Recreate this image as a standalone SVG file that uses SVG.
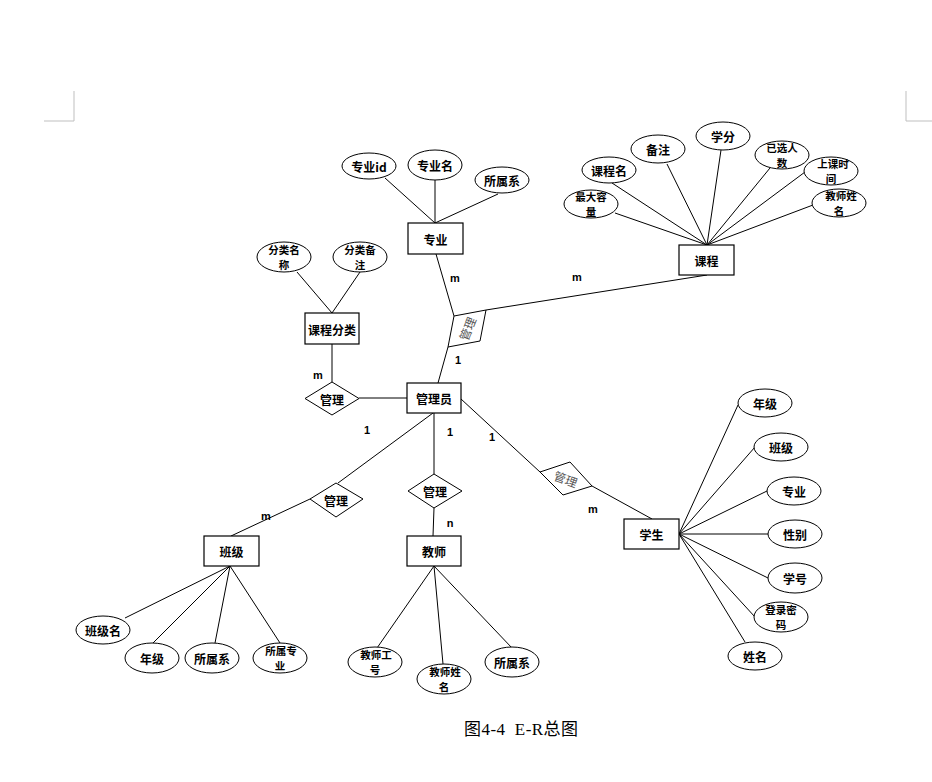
<svg xmlns="http://www.w3.org/2000/svg" width="932" height="782" viewBox="0 0 932 782">
<style>
.bg{fill:#fff}
.ent rect{fill:#fff;stroke:#000;stroke-width:1.2}
.att ellipse{fill:#fff;stroke:#000;stroke-width:1}
.rel polygon{fill:#fff;stroke:#000;stroke-width:1}
text{font-family:"Noto Sans CJK SC","Liberation Sans",sans-serif;font-size:12px;font-weight:bold;fill:#000;text-anchor:middle;dominant-baseline:central}
.t2{font-size:10.5px}
.lbl{font-family:"Liberation Sans","Noto Sans",sans-serif;font-size:11px;font-weight:bold}
.rot{font-weight:normal;fill:#555}
.conn line{stroke:#000;stroke-width:1}
.corner{stroke:#bfbfbf;stroke-width:1;fill:none}
.cap{font-family:"Liberation Serif","Noto Sans CJK SC",serif;font-size:17px;font-weight:normal;text-anchor:start}
</style>
<rect class="bg" x="0" y="0" width="932" height="782"/>
<path class="corner" d="M74,91 V121 H44"/>
<path class="corner" d="M906,91 V121 H932"/>

<g id="connectors" class="conn">
<line x1="385" y1="178" x2="435" y2="223"/>
<line x1="435" y1="180" x2="435" y2="223"/>
<line x1="498" y1="194" x2="435" y2="223"/>
<line x1="615" y1="213" x2="707" y2="245"/>
<line x1="612" y1="183" x2="707" y2="245"/>
<line x1="667" y1="164" x2="707" y2="245"/>
<line x1="721" y1="150" x2="707" y2="245"/>
<line x1="770" y1="168" x2="707" y2="245"/>
<line x1="805" y1="172" x2="707" y2="245"/>
<line x1="813" y1="205" x2="707" y2="245"/>
<line x1="297" y1="272" x2="332" y2="313"/>
<line x1="360" y1="272" x2="332" y2="313"/>
<line x1="332" y1="344" x2="332" y2="382"/>
<line x1="359" y1="398" x2="407" y2="398"/>
<line x1="436" y1="254" x2="454" y2="316"/>
<line x1="486" y1="310" x2="707" y2="275"/>
<line x1="448" y1="347" x2="438" y2="383"/>
<line x1="433" y1="413" x2="338" y2="483"/>
<line x1="310" y1="499" x2="231" y2="536"/>
<line x1="434" y1="413" x2="434" y2="474"/>
<line x1="434" y1="508" x2="433" y2="536"/>
<line x1="461" y1="399" x2="540" y2="472"/>
<line x1="592" y1="486" x2="652" y2="519"/>
<line x1="679" y1="534" x2="738" y2="405"/>
<line x1="679" y1="534" x2="755" y2="447"/>
<line x1="679" y1="534" x2="767" y2="491"/>
<line x1="679" y1="534" x2="768" y2="534"/>
<line x1="679" y1="534" x2="768" y2="578"/>
<line x1="679" y1="534" x2="755" y2="617"/>
<line x1="679" y1="534" x2="745" y2="642"/>
<line x1="230" y1="566" x2="125" y2="618"/>
<line x1="230" y1="566" x2="153" y2="643"/>
<line x1="230" y1="566" x2="215" y2="643"/>
<line x1="230" y1="566" x2="280" y2="643"/>
<line x1="434" y1="566" x2="377" y2="648"/>
<line x1="434" y1="566" x2="443" y2="664"/>
<line x1="434" y1="566" x2="512" y2="648"/>
</g>

<g id="e-zhuanye" class="ent"><rect x="408" y="223" width="55" height="31"/><text x="435.5" y="239">专业</text></g>
<g id="e-kecheng" class="ent"><rect x="679" y="245" width="55" height="30"/><text x="706.5" y="260">课程</text></g>
<g id="e-kechengfenlei" class="ent"><rect x="305" y="313" width="54" height="31"/><text x="332" y="329">课程分类</text></g>
<g id="e-guanliyuan" class="ent"><rect x="407" y="383" width="54" height="30"/><text x="434" y="398">管理员</text></g>
<g id="e-banji" class="ent"><rect x="204" y="536" width="55" height="30"/><text x="231.5" y="551">班级</text></g>
<g id="e-jiaoshi" class="ent"><rect x="407" y="536" width="54" height="30"/><text x="434" y="551">教师</text></g>
<g id="e-xuesheng" class="ent"><rect x="624" y="519" width="55" height="30"/><text x="651.5" y="534">学生</text></g>

<g id="r-fenlei" class="rel"><polygon points="305,398.5 332,382 359,398.5 332,415"/><text x="332" y="399">管理</text></g>
<g id="r-kecheng" class="rel"><polygon points="454,316 486,310 480,341 448,347"/><text class="rot" x="467" y="328.5" transform="rotate(-68 467 328.5)">管理</text></g>
<g id="r-banji" class="rel"><polygon points="310,499 336,483 363,499 336,517"/><text x="336" y="500">管理</text></g>
<g id="r-jiaoshi" class="rel"><polygon points="408,491 434,474 462,491 434,508"/><text x="435" y="491">管理</text></g>
<g id="r-xuesheng" class="rel"><polygon points="540,472 570,462 592,486 563,495"/><text class="rot" x="566" y="478.5" transform="rotate(20 566 478.5)">管理</text></g>

<g id="a-zyid" class="att"><ellipse cx="369" cy="166" rx="27" ry="13"/><text x="369" y="166">专业id</text></g>
<g id="a-zym" class="att"><ellipse cx="435" cy="165" rx="27" ry="15"/><text x="435" y="165">专业名</text></g>
<g id="a-zysx" class="att"><ellipse cx="502" cy="180" rx="27" ry="13"/><text x="502" y="180">所属系</text></g>
<g id="a-zdrl" class="att"><ellipse cx="591" cy="204" rx="27" ry="14"/><text class="t2" x="591" y="196.5">最大容</text><text class="t2" x="591" y="211.5">量</text></g>
<g id="a-kcm" class="att"><ellipse cx="609" cy="170" rx="27" ry="13"/><text x="609" y="170">课程名</text></g>
<g id="a-bz" class="att"><ellipse cx="658" cy="149" rx="27" ry="14"/><text x="658" y="149">备注</text></g>
<g id="a-xf" class="att"><ellipse cx="723" cy="136" rx="27" ry="14"/><text x="723" y="136">学分</text></g>
<g id="a-yxrs" class="att"><ellipse cx="782" cy="155" rx="27" ry="14"/><text class="t2" x="782" y="147.5">已选人</text><text class="t2" x="782" y="162.5">数</text></g>
<g id="a-sksj" class="att"><ellipse cx="831" cy="171" rx="27" ry="14"/><text class="t2" x="833" y="163.5">上课时</text><text class="t2" x="831" y="178.5">间</text></g>
<g id="a-jsxm1" class="att"><ellipse cx="839" cy="203" rx="27" ry="14"/><text class="t2" x="841" y="195.5">教师姓</text><text class="t2" x="839" y="210.5">名</text></g>
<g id="a-flmc" class="att"><ellipse cx="284" cy="257" rx="27" ry="15"/><text class="t2" x="284" y="249.5">分类名</text><text class="t2" x="284" y="264.5">称</text></g>
<g id="a-flbz" class="att"><ellipse cx="360" cy="257" rx="27" ry="15"/><text class="t2" x="360" y="249.5">分类备</text><text class="t2" x="360" y="264.5">注</text></g>
<g id="a-nj1" class="att"><ellipse cx="765" cy="403" rx="27" ry="14"/><text x="765" y="403">年级</text></g>
<g id="a-bj" class="att"><ellipse cx="781" cy="447" rx="27" ry="14"/><text x="781" y="447">班级</text></g>
<g id="a-zy" class="att"><ellipse cx="794" cy="491" rx="27" ry="14"/><text x="794" y="491">专业</text></g>
<g id="a-xb" class="att"><ellipse cx="795" cy="534" rx="27" ry="14"/><text x="795" y="534">性别</text></g>
<g id="a-xh" class="att"><ellipse cx="795" cy="578" rx="27" ry="15"/><text x="795" y="578">学号</text></g>
<g id="a-dlmm" class="att"><ellipse cx="781" cy="617" rx="27" ry="15"/><text class="t2" x="781" y="609.5">登录密</text><text class="t2" x="781" y="624.5">码</text></g>
<g id="a-xm" class="att"><ellipse cx="755" cy="656" rx="27" ry="14"/><text x="755" y="656">姓名</text></g>
<g id="a-bjm" class="att"><ellipse cx="103" cy="630" rx="27" ry="14"/><text x="103" y="630">班级名</text></g>
<g id="a-nj2" class="att"><ellipse cx="152" cy="658" rx="27" ry="15"/><text x="152" y="658">年级</text></g>
<g id="a-sx2" class="att"><ellipse cx="212" cy="658" rx="27" ry="15"/><text x="212" y="658">所属系</text></g>
<g id="a-sszy" class="att"><ellipse cx="280" cy="658" rx="27" ry="15"/><text class="t2" x="281" y="650.5">所属专</text><text class="t2" x="280" y="665.5">业</text></g>
<g id="a-jsgh" class="att"><ellipse cx="375" cy="662" rx="27" ry="15"/><text class="t2" x="376" y="654.5">教师工</text><text class="t2" x="375" y="669.5">号</text></g>
<g id="a-jsxm2" class="att"><ellipse cx="444" cy="679" rx="27" ry="15"/><text class="t2" x="445" y="671.5">教师姓</text><text class="t2" x="444" y="686.5">名</text></g>
<g id="a-sx3" class="att"><ellipse cx="512" cy="662" rx="27" ry="15"/><text x="512" y="662">所属系</text></g>

<g id="labels">
<text class="lbl" x="455" y="278">m</text>
<text class="lbl" x="577" y="277">m</text>
<text class="lbl" x="458" y="360">1</text>
<text class="lbl" x="318" y="375">m</text>
<text class="lbl" x="367" y="430">1</text>
<text class="lbl" x="450" y="432">1</text>
<text class="lbl" x="492" y="437">1</text>
<text class="lbl" x="266" y="516">m</text>
<text class="lbl" x="450" y="523">n</text>
<text class="lbl" x="593" y="509">m</text>
</g>

<text class="cap" x="464" y="729" textLength="114" lengthAdjust="spacing" xml:space="preserve">图4-4  E-R总图</text>
</svg>
